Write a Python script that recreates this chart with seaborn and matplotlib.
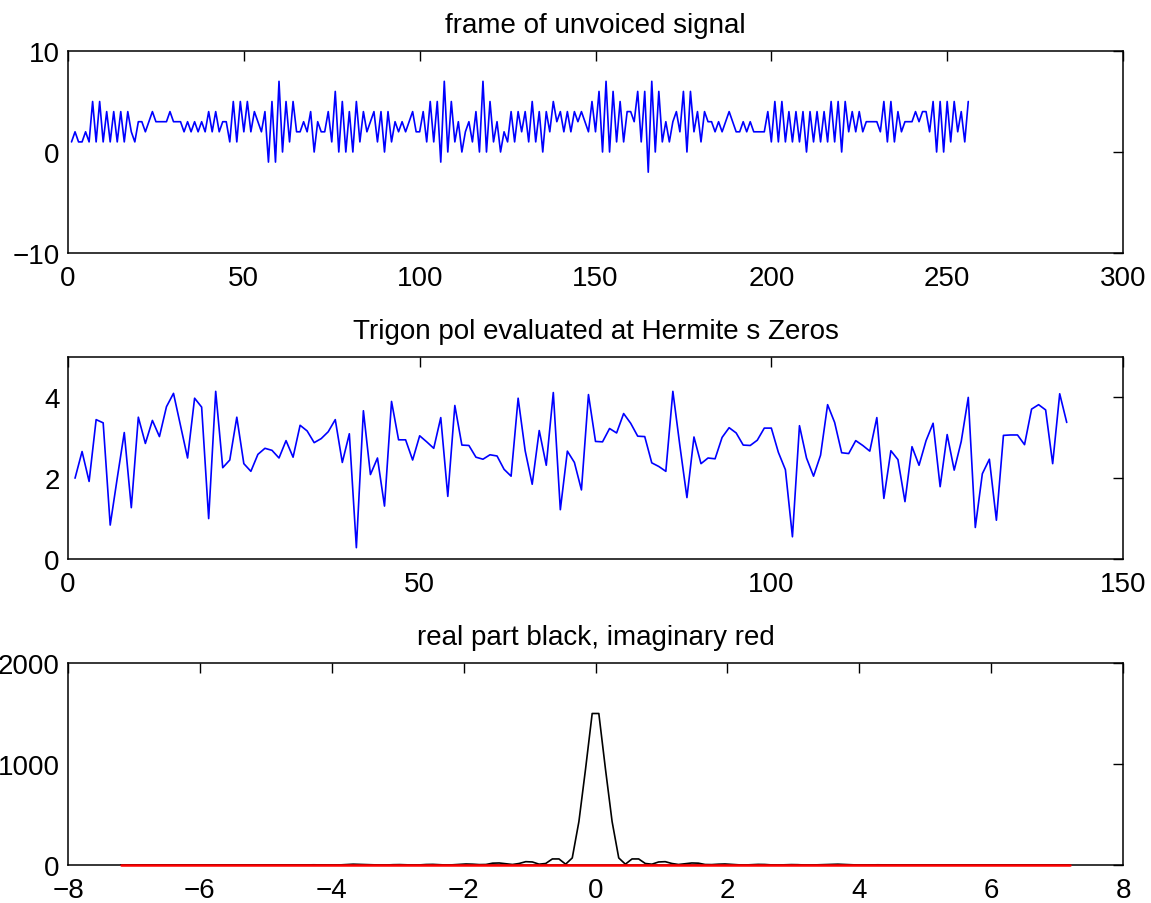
import numpy as np
import pandas as pd
import matplotlib
matplotlib.use("Agg")
import matplotlib.pyplot as plt
import seaborn as sns

# frame of unvoiced signal (samples 1..256)
frame_values = [
    1, 2, 1, 1, 2, 1, 5, 1, 5, 1,
    4, 1, 4, 1, 4, 1, 4, 2, 1, 3,
    3, 2, 3, 4, 3, 3, 3, 3, 4, 3,
    3, 3, 2, 3, 2, 3, 2, 3, 2, 4,
    2, 4, 2, 3, 3, 1, 5, 1, 5, 2,
    5, 2, 4, 3, 2, 4, -1, 5, -1, 7,
    0, 5, 1, 5, 2, 2, 3, 2, 4, 0,
    3, 2, 2, 4, 1, 6, 0, 5, 0, 4,
    0, 5, 1, 4, 2, 3, 4, 1, 4, 0,
    4, 1, 3, 2, 3, 2, 3, 4, 2, 2,
    4, 1, 5, 1, 5, -1, 7, 0, 5, 1,
    3, 0, 2, 3, 1, 4, 0, 7, 0, 5,
    1, 3, 0, 2, 1, 4, 1, 4, 2, 4,
    1, 5, 1, 4, 0, 4, 2, 5, 3, 4,
    2, 4, 2, 4, 3, 4, 3, 2, 5, 2,
    6, 0, 7, 0, 6, 1, 5, 1, 4, 4,
    3, 6, 1, 6, -2, 7, 0, 6, 1, 3,
    1, 3, 4, 2, 6, 0, 6, 2, 4, 1,
    4, 3, 3, 2, 3, 2, 3, 4, 3, 2,
    2, 3, 2, 3, 2, 2, 2, 2, 4, 1,
    5, 1, 5, 1, 4, 1, 4, 1, 4, 0,
    4, 1, 4, 1, 4, 1, 5, 1, 5, 0,
    5, 2, 4, 2, 4, 2, 3, 3, 3, 3,
    2, 5, 1, 5, 1, 4, 2, 3, 3, 3,
    4, 3, 4, 4, 2, 5, 0, 5, 0, 5,
    1, 5, 2, 4, 1, 5,
]

# trigonometric polynomial at Hermite zeros (1..142)
trigon_values = [
    2.00, 2.66, 1.92, 3.45, 3.37, 0.84, 2.00, 3.13, 1.27, 3.51,
    2.86, 3.43, 3.03, 3.77, 4.10, 3.30, 2.50, 3.98, 3.76, 1.00,
    4.15, 2.26, 2.45, 3.51, 2.36, 2.17, 2.59, 2.74, 2.69, 2.50,
    2.93, 2.52, 3.31, 3.17, 2.88, 2.98, 3.15, 3.45, 2.39, 3.10,
    0.28, 3.67, 2.09, 2.50, 1.31, 3.90, 2.95, 2.95, 2.45, 3.05,
    2.90, 2.74, 3.50, 1.55, 3.80, 2.82, 2.81, 2.52, 2.47, 2.58,
    2.55, 2.22, 2.05, 3.98, 2.68, 1.85, 3.18, 2.32, 4.12, 1.22,
    2.67, 2.39, 1.71, 4.07, 2.91, 2.90, 3.23, 3.12, 3.60, 3.36,
    3.04, 3.03, 2.38, 2.29, 2.17, 4.15, 2.80, 1.52, 3.02, 2.36,
    2.50, 2.48, 3.01, 3.25, 3.12, 2.82, 2.81, 2.94, 3.24, 3.24,
    2.64, 2.21, 0.55, 3.30, 2.50, 2.05, 2.57, 3.82, 3.38, 2.63,
    2.61, 2.93, 2.81, 2.67, 3.50, 1.50, 2.68, 2.46, 1.42, 2.78,
    2.32, 2.93, 3.36, 1.79, 3.08, 2.20, 2.91, 4.00, 0.78, 2.11,
    2.47, 0.96, 3.06, 3.07, 3.07, 2.83, 3.71, 3.82, 3.69, 2.36,
    4.09, 3.38,
]

# spectrum: x range and real part from the centre outward (one side)
spec_x_min, spec_x_max, spec_n = -7.2, 7.2, 144
real_half = [
    1500, 950, 430, 70, 8, 60, 60, 15, 8, 30,
    33, 15, 5, 12, 20, 18, 5, 4, 8, 10,
    6, 2, 0, 3, 6, 5, 1, 0, 2, 4,
    3, 0, 0, 2, 3, 6, 8, 5, 1, 0,
    0, 1, 2, 1, 0, 0, 0, 1, 1, 0,
    0, 0, 0, 0, 0, 0, 0, 0, 0, 0,
    0, 0, 0, 0, 0, 0, 0, 0, 0, 0,
    0, 0,
]
imag_values = [0.0] * spec_n

frame_df = pd.DataFrame({"n": np.arange(1, len(frame_values) + 1), "v": frame_values})
trigon_df = pd.DataFrame({"n": np.arange(1, len(trigon_values) + 1), "v": trigon_values})
spec_x = np.linspace(spec_x_min, spec_x_max, spec_n)
spec_df = pd.DataFrame({"x": spec_x,
                        "re": real_half[::-1] + real_half,
                        "im": imag_values})

sns.set_style("white")
plt.rcParams["font.family"] = ["Liberation Sans", "DejaVu Sans"]
plt.rcParams["axes.linewidth"] = 1.1
plt.rcParams["axes.edgecolor"] = "black"
plt.rcParams["text.color"] = "black"

fig = plt.figure(figsize=(11.51, 9.04), dpi=100)
W, H = 1151, 904


def make_axes(top, bottom):
    return fig.add_axes([68 / W, 1 - bottom / H, 1055 / W, (bottom - top) / H])


def style(ax, title):
    ax.set_title(title, fontsize=20, pad=14, color="black")
    ax.tick_params(direction="in", length=7, width=1, labelsize=20,
                   top=True, right=True, colors="black")
    ax.tick_params(axis="x", pad=9)
    ax.tick_params(axis="y", pad=6)
    ax.set_xlabel("")
    ax.set_ylabel("")
    for sp in ax.spines.values():
        sp.set_visible(True)
        sp.set_color("black")


ax1 = make_axes(52, 254)
sns.lineplot(data=frame_df, x="n", y="v", ax=ax1, color="#0000ff", linewidth=1.2)
ax1.set_xlim(0, 300)
ax1.set_ylim(-10, 10)
ax1.set_xticks(range(0, 301, 50))
ax1.set_yticks([-10, 0, 10])
style(ax1, "frame of unvoiced signal")

ax2 = make_axes(358, 560)
sns.lineplot(data=trigon_df, x="n", y="v", ax=ax2, color="#0000ff", linewidth=1.2)
ax2.set_xlim(0, 150)
ax2.set_ylim(0, 5)
ax2.set_xticks([0, 50, 100, 150])
ax2.set_yticks([0, 2, 4])
style(ax2, "Trigon pol evaluated at Hermite s Zeros")

ax3 = make_axes(664, 866)
sns.lineplot(data=spec_df, x="x", y="re", ax=ax3, color="black", linewidth=1.2)
sns.lineplot(data=spec_df, x="x", y="im", ax=ax3, color="#ff0000", linewidth=1.8,
             zorder=3, clip_on=False)
ax3.set_xlim(-8, 8)
ax3.set_ylim(0, 2000)
ax3.set_xticks(range(-8, 9, 2))
ax3.set_yticks([0, 1000, 2000])
style(ax3, "real part black, imaginary red")

fig.savefig("out.png", dpi=100)
